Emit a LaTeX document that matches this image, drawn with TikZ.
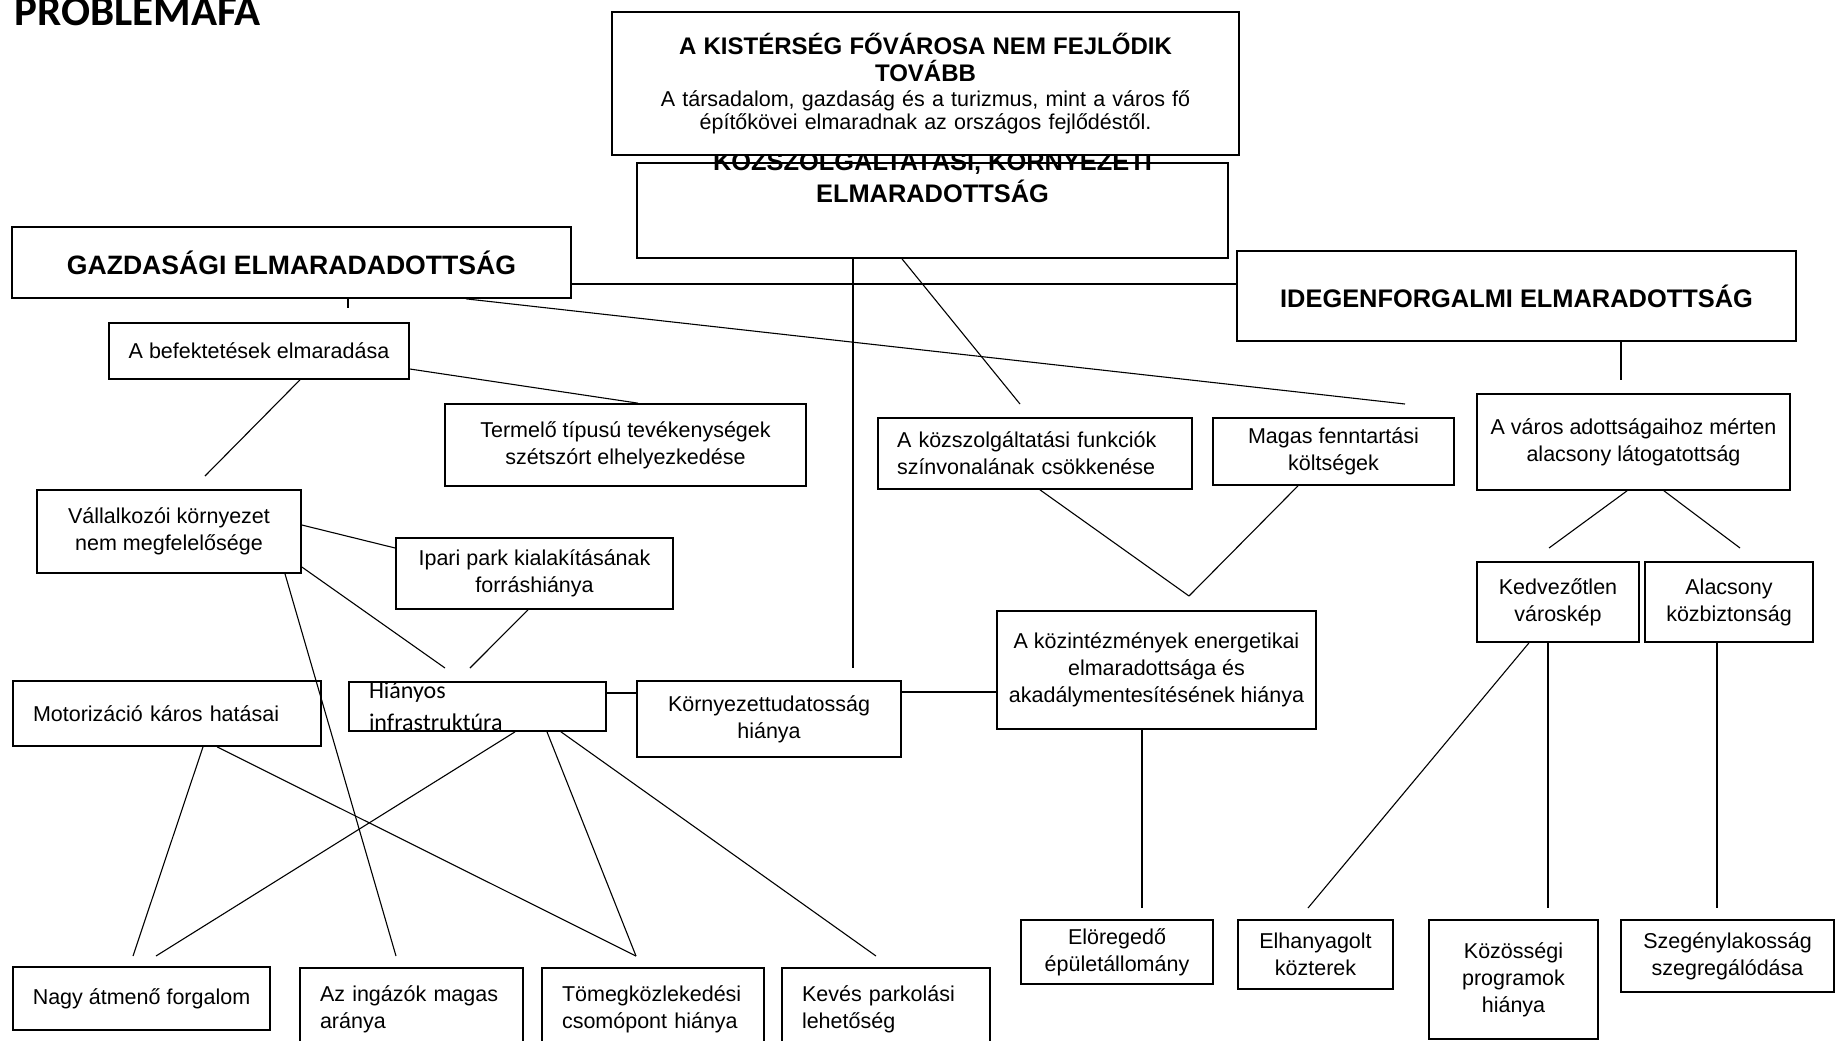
\documentclass[tikz,border=0pt]{standalone}
\usepackage{fontspec}
\setmainfont{Liberation Sans}
\newfontfamily\carlito{Carlito}
\usepackage{tikz}

\begin{document}
\begin{tikzpicture}[
			x=0.5pt,y=-0.5pt,
			box/.style={draw,line width=0.85pt,fill=white,inner sep=0pt,align=center,font=\fontsize{10.75}{13.5}\selectfont},
			head/.style={box,font=\bfseries\fontsize{12.7}{16}\selectfont},
			lbox/.style={box,align=left,inner xsep=10pt},
			link/.style={line width=0.55pt}
			]
			\useasboundingbox (0,0) rectangle (1837,1040);
			\node[anchor=base west,inner sep=0pt,font=\carlito\bfseries\fontsize{21.5}{25}\selectfont] (title) at (14,25) {PROBLEMAFA};
			\node[box,minimum width=295.5pt,minimum height=47.5pt] (kozsz) at (932.5,210.5) {};
			\node[anchor=base,inner sep=0pt,align=center,font=\bfseries\fontsize{12.7}{16}\selectfont] (kozszt) at (932.5,202) {KÖZSZOLGÁLTATÁSI, KÖRNYEZETI\\ELMARADOTTSÁG};
			\node[box,minimum width=313.5pt,minimum height=71.5pt,text width=300pt,font=\fontsize{10.75}{11.5}\selectfont] (top) at (925.5,83.5) {{\bfseries\fontsize{12}{13.5}\selectfont A KISTÉRSÉG FŐVÁROSA NEM FEJLŐDIK\\TOVÁBB\par}\vspace{1pt}A társadalom, gazdaság és a turizmus, mint a város fő\\építőkövei elmaradnak az országos fejlődéstől.};
			\node[head,minimum width=279.5pt,minimum height=35.5pt,font=\bfseries\fontsize{13.3}{16}\selectfont] (gazd) at (291.5,262.5) {GAZDASÁGI ELMARADADOTTSÁG};
			\node[head,minimum width=279.5pt,minimum height=45pt] (idegen) at (1516.5,296) {IDEGENFORGALMI ELMARADOTTSÁG};
			\node[box,minimum width=150pt,minimum height=28pt] (befekt) at (259,351) {A befektetések elmaradása};
			\node[box,minimum width=180.5pt,minimum height=41pt] (termelo) at (625.5,445) {Termelő típusú tevékenységek\\szétszórt elhelyezkedése};
			\node[box,minimum width=132pt,minimum height=41.5pt] (vallalk) at (169,531.5) {Vállalkozói környezet\\nem megfelelősége};
			\node[box,minimum width=138.5pt,minimum height=35.5pt] (ipari) at (534.5,573.5) {Ipari park kialakításának\\forráshiánya};
			\node[lbox,minimum width=154pt,minimum height=32.5pt,text width=134pt] (motor) at (167,713.5) {Motorizáció káros hatásai};
			\node[lbox,minimum width=128.5pt,minimum height=24.5pt,text width=108.5pt,font=\carlito\fontsize{12}{16}\selectfont] (hianyos) at (477.5,706.5) {Hiányos\\infrastruktúra};
			\node[box,minimum width=132pt,minimum height=38pt] (kornyezet) at (769,719) {Környezettudatosság\\hiánya};
			\node[box,minimum width=159.5pt,minimum height=59pt] (kozint) at (1156.5,670) {A közintézmények energetikai\\elmaradottsága és\\akadálymentesítésének hiánya};
			\node[lbox,minimum width=157pt,minimum height=35.5pt,inner xsep=9.5pt,text width=138pt] (kozszolg) at (1035,453.5) {A közszolgáltatási funkciók\\színvonalának csökkenése};
			\node[box,minimum width=120.5pt,minimum height=33.5pt] (magas) at (1333.5,451.5) {Magas fenntartási\\költségek};
			\node[box,minimum width=156.5pt,minimum height=48pt] (varos) at (1633.5,442) {A város adottságaihoz mérten\\alacsony látogatottság};
			\node[box,minimum width=81pt,minimum height=40pt] (kedv) at (1558,602) {Kedvezőtlen\\városkép};
			\node[box,minimum width=84pt,minimum height=40pt] (alacsony) at (1729,602) {Alacsony\\közbiztonság};
			\node[box,minimum width=128.5pt,minimum height=31.5pt] (nagy) at (141.5,998.5) {Nagy átmenő forgalom};
			\node[lbox,minimum width=111.5pt,minimum height=41pt,text width=91.5pt] (ingazok) at (411.5,1009) {Az ingázók magas\\aránya};
			\node[lbox,minimum width=111pt,minimum height=41pt,text width=91pt] (tomeg) at (653,1009) {Tömegközlekedési\\csomópont hiánya};
			\node[lbox,minimum width=104pt,minimum height=41pt,text width=84pt] (keves) at (886,1009) {Kevés parkolási\\lehetőség};
			\node[box,minimum width=96pt,minimum height=32pt] (eloreg) at (1117,952) {Elöregedő\\épületállomány};
			\node[box,minimum width=77.5pt,minimum height=34.5pt] (elhany) at (1315.5,954.5) {Elhanyagolt\\közterek};
			\node[box,minimum width=84.5pt,minimum height=59.5pt] (kozoss) at (1513.5,979.5) {Közösségi\\programok\\hiánya};
			\node[box,minimum width=106.5pt,minimum height=36pt] (szegeny) at (1727.5,956) {Szegénylakosság\\szegregálódása};
			\coordinate (gtick) at (348,308);
			\coordinate (magfree) at (1405,404);
			\coordinate (kornyfree) at (853,668);
			\coordinate (kszfree) at (1020,404);
			\coordinate (idegfree) at (1621,380);
			\coordinate (vallfree) at (205,476);
			\coordinate (hiafree1) at (445,668);
			\coordinate (hiafree2) at (470,668);
			\coordinate (ingfree) at (396,956);
			\coordinate (vapex) at (1189,596);
			\coordinate (kedvfree) at (1549,548);
			\coordinate (alacsfree) at (1740,548);
			\coordinate (nagyfree1) at (133,956);
			\coordinate (nagyfree2) at (156,956);
			\coordinate (tomfree) at (636,956);
			\coordinate (kevfree) at (876,956);
			\coordinate (elofree) at (1142,908);
			\coordinate (elhfree) at (1308,908);
			\coordinate (kozfree) at (1548,908);
			\coordinate (szegfree) at (1717,908);
			\draw[link] (gazd.south -| gtick)--(gtick);
			\draw[link] (gazd.east |- 0,284)--(idegen.west |- 0,284);
			\draw[link] (gazd.south -| 466,0)--(magfree);
			\draw[link] (kozsz.south -| kornyfree)--(kornyfree);
			\draw[link] (kozsz.south -| 902,0)--(kszfree);
			\draw[link] (idegen.south -| idegfree)--(idegfree);
			\draw[link] (befekt.east |- 0,369)--(termelo.north -| 638,0);
			\draw[link] (befekt.south -| 300,0)--(vallfree);
			\draw[link] (vallalk.east |- 0,525)--(ipari.west |- 0,548);
			\draw[link] (vallalk.east |- 0,567)--(hiafree1);
			\draw[link] (ipari.south -| 528,0)--(hiafree2);
			\draw[link] (vallalk.south -| 285,0)--(ingfree);
			\draw[link] (hianyos.east |- 0,693)--(kornyezet.west |- 0,693);
			\draw[link] (kornyezet.east |- 0,692)--(kozint.west |- 0,692);
			\draw[link] (kozszolg.south -| 1040,0)--(vapex);
			\draw[link] (magas.south -| 1298,0)--(vapex);
			\draw[link] (varos.south -| 1627,0)--(kedvfree);
			\draw[link] (varos.south -| 1664,0)--(alacsfree);
			\draw[link] (motor.south -| 203,0)--(nagyfree1);
			\draw[link] (motor.south -| 217,0)--(tomfree);
			\draw[link] (hianyos.south -| 515,0)--(nagyfree2);
			\draw[link] (hianyos.south -| 547,0)--(tomfree);
			\draw[link] (hianyos.south -| 561,0)--(kevfree);
			\draw[link] (kozint.south -| elofree)--(elofree);
			\draw[link] (kedv.south -| 1529,0)--(elhfree);
			\draw[link] (kedv.south -| kozfree)--(kozfree);
			\draw[link] (alacsony.south -| szegfree)--(szegfree);
		\end{tikzpicture}
\end{document}
